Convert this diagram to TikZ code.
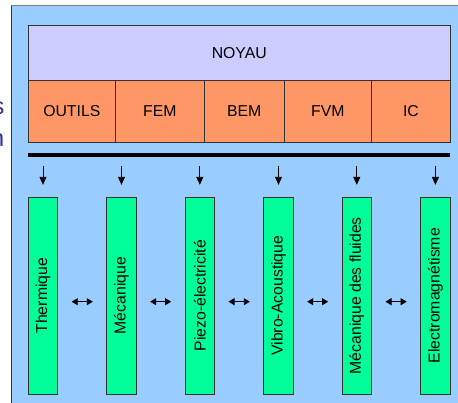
\documentclass[tikz,border=0pt]{standalone}
\usepackage{fontspec}
\setmainfont{Liberation Sans}
\usepackage{tikz}
\usetikzlibrary{positioning, arrows.meta, calc}
\definecolor{fondbleu}{RGB}{153, 204, 255}
\definecolor{noyauV}{RGB}{204, 204, 255}
\definecolor{outilO}{RGB}{255, 150, 102}
\definecolor{physG}{RGB}{0, 255, 153}
\definecolor{bordG}{RGB}{51, 51, 51}
\definecolor{titreB}{RGB}{51, 51, 153}
\tikzset{
  blk/.style={draw=bordG, fill=#1, line width=1pt, outer sep=0pt, inner sep=0pt,
              align=center, font=\fontsize{15.8}{18}\selectfont},
  tool/.style={blk=outilO, minimum height=61.6, anchor=north west},
  phys/.style={blk=physG, rotate=90, minimum width=196.7, minimum height=29.4},
  arr/.style={-{Triangle[length=8pt, width=7pt]}, line width=0.9pt},
  darr/.style={{Triangle[length=6pt, width=7pt]}-{Triangle[length=6pt, width=7pt]},
               line width=0.9pt, shorten <=14pt, shorten >=14pt},
  lbl/.style={text=titreB, font=\fontsize{24}{28}\selectfont, inner sep=0pt},
}

\begin{document}
\begin{tikzpicture}[x=1pt, y=-1pt]
  \useasboundingbox (0,0) rectangle (458,403);
  % Background panel
  \fill[fondbleu] (11,6) rectangle (458,403);
  \draw[gray, line width=1pt] (11,6) -- (458,6);
  \draw[bordG, line width=1pt] (11,403) -- (11,6);
  % Cut letters on the left
  \node[lbl, anchor=base east] (s) at (4.5,115) {s};
  \node[lbl, anchor=base east] (n) at (4.5,146.5) {n};
  % Kernel and tools
  \node[blk=noyauV, anchor=north west, minimum width=422, minimum height=55.4]
    (noy) at (28.3,25.3) {NOYAU};
  \node[tool, minimum width=87] (out) at (noy.south west) {OUTILS};
  \node[tool, minimum width=89, right=0pt of out] (fem) {FEM};
  \node[tool, minimum width=79.7, right=0pt of fem] (bem) {BEM};
  \node[tool, minimum width=87.7, right=0pt of bem] (fvm) {FVM};
  \node[tool, minimum width=78.6, right=0pt of fvm] (ic) {IC};
  \draw[line width=4pt] ([yshift=-13pt]out.south west) -- ([yshift=-13pt]ic.south east);
  % Physics modules
  \node[phys] (th) at (43,295.7) {Thermique};
  \node[phys] (me) at (121.5,295.7) {Mécanique};
  \node[phys] (pz) at (199.8,295.7) {Piezo-électricité};
  \node[phys] (va) at (278.5,295.7) {Vibro-Acoustique};
  \node[phys] (mf) at (356.8,295.7) {Mécanique des fluides};
  \node[phys] (em) at (435.4,295.7) {Electromagnétisme};
  % Arrows
  \draw[arr] ([yshift=31pt]th.east) -- ([yshift=12.5pt]th.east);
  \draw[arr] ([yshift=31pt]me.east) -- ([yshift=12.5pt]me.east);
  \draw[arr] ([yshift=31pt]pz.east) -- ([yshift=12.5pt]pz.east);
  \draw[arr] ([yshift=31pt]va.east) -- ([yshift=12.5pt]va.east);
  \draw[arr] ([yshift=31pt]mf.east) -- ([yshift=12.5pt]mf.east);
  \draw[arr] ([yshift=31pt]em.east) -- ([yshift=12.5pt]em.east);
  \draw[darr] ([yshift=-6pt]th.south) -- ([yshift=-6pt]me.north);
  \draw[darr] ([yshift=-6pt]me.south) -- ([yshift=-6pt]pz.north);
  \draw[darr] ([yshift=-6pt]pz.south) -- ([yshift=-6pt]va.north);
  \draw[darr] ([yshift=-6pt]va.south) -- ([yshift=-6pt]mf.north);
  \draw[darr] ([yshift=-6pt]mf.south) -- ([yshift=-6pt]em.north);
\end{tikzpicture}
\end{document}
